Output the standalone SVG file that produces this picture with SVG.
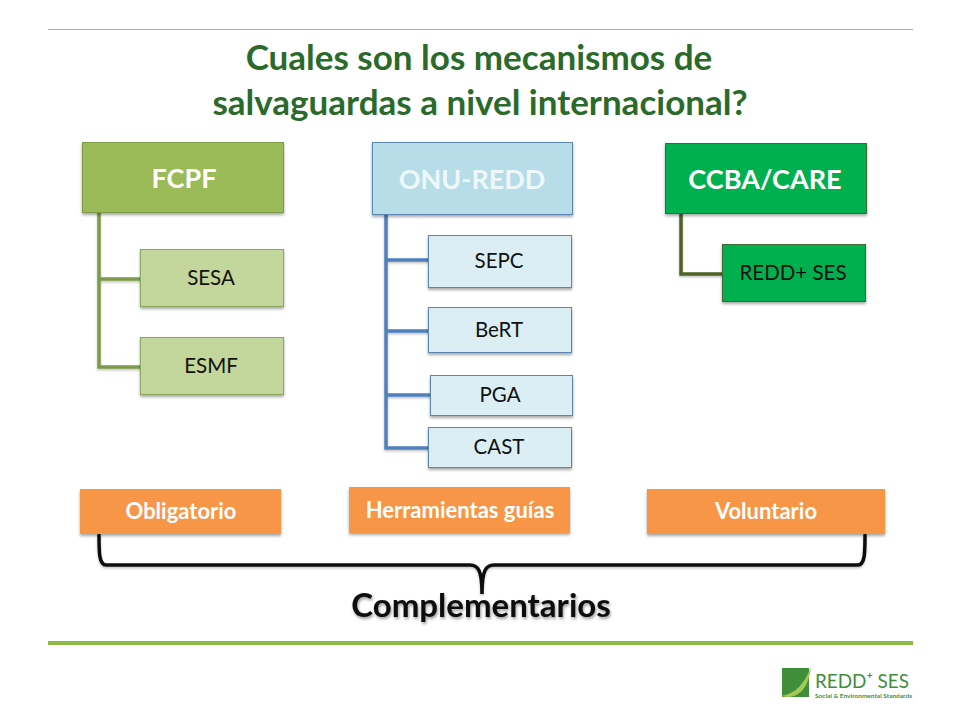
<svg xmlns="http://www.w3.org/2000/svg" width="960" height="720" viewBox="0 0 960 720">
<defs>
<filter id="sh" x="-10%" y="-10%" width="120%" height="130%"><feDropShadow dx="0" dy="2" stdDeviation="1.6" flood-color="#000" flood-opacity="0.35"/></filter>
<filter id="ls" x="-5%" y="-5%" width="110%" height="110%"><feDropShadow dx="0" dy="1.500" stdDeviation="1" flood-color="#000" flood-opacity="0.25"/></filter>
<filter id="ts" x="-10%" y="-20%" width="120%" height="150%"><feDropShadow dx="1" dy="2" stdDeviation="1.5" flood-color="#000" flood-opacity="0.4"/></filter>
</defs>
<style>
text{font-family:"Lato","Carlito","Open Sans",sans-serif;text-anchor:middle}
.title{font-size:35px;font-weight:700;fill:#2a6a2a}
.head{font-size:27px;font-weight:700;fill:#fff}
.sub{font-size:20.5px;fill:#111}
.tag{font-size:22px;font-weight:700;fill:#fff}
.box{filter:url(#sh);stroke-width:1}
.g1{fill:#9bbb59;stroke:#7f9a48}
.g2{fill:#c3d69b;stroke:#8fa760}
.b1{fill:#b7dde8;stroke:#5b87b5}
.b2{fill:#dbeef4;stroke:#5b87b5}
.v1{fill:#00b050;stroke:#3f6b35}
.o{fill:#f79646;stroke:none}
.conn{fill:none;stroke-width:3.500}
</style>
<rect width="960" height="720" fill="#fff"/>
<rect x="48" y="29" width="865" height="1" fill="#a9bd70"/>
<rect x="48" y="641" width="865" height="4" fill="#8cbb45"/>
<text class="title" x="479" y="70">Cuales son los mecanismos de</text>
<text class="title" x="480" y="115">salvaguardas a nivel internacional?</text>
<g id="connectors" filter="url(#ls)">
<path class="conn" stroke="#7f9a48" d="M99 212V367H141M99 279H141"/>
<path class="conn" stroke="#4f81bd" stroke-width="4" d="M386 214V448H429M386 260H429M386 331H429M386 395H431"/>
<path class="conn" stroke="#4f6228" d="M681 212V274H723"/>
<path fill="none" stroke="#111" stroke-width="3.500" stroke-linecap="round" d="M99 535C99 552 99 565 106 565H470C478 565 482 570 482 594C482 570 486 565 494 565H858C865 565 865 552 865 535"/>
</g>
<g id="fcpf"><rect class="box g1" x="82.500" y="142.500" width="201" height="70"/><text class="head" x="184" y="188">FCPF</text></g>
<g id="sesa"><rect class="box g2" x="140.500" y="249.500" width="143" height="57"/><text class="sub" x="211" y="285">SESA</text></g>
<g id="esmf"><rect class="box g2" x="140.500" y="337.500" width="143" height="57"/><text class="sub" x="211" y="373">ESMF</text></g>
<g id="onu"><rect class="box b1" x="372.500" y="142.500" width="200" height="72"/><text class="head" x="472" y="189" style="fill:#eef8fb">ONU-REDD</text></g>
<g id="sepc"><rect class="box b2" x="428.500" y="235.500" width="143" height="52"/><text class="sub" x="499" y="268">SEPC</text></g>
<g id="bert"><rect class="box b2" x="428.500" y="307.500" width="143" height="45"/><text class="sub" x="499" y="337">BeRT</text></g>
<g id="pga"><rect class="box b2" x="430.500" y="375.500" width="142" height="40"/><text class="sub" x="500" y="402">PGA</text></g>
<g id="cast"><rect class="box b2" x="428.500" y="427.500" width="143" height="40"/><text class="sub" x="499" y="454">CAST</text></g>
<g id="ccba"><rect class="box v1" x="665.500" y="143.500" width="201" height="70"/><text class="head" x="765" y="189">CCBA/CARE</text></g>
<g id="redd"><rect class="box v1" x="722.500" y="244.500" width="143" height="57"/><text class="sub" x="793" y="280">REDD+ SES</text></g>
<g id="obligatorio"><rect class="box o" x="80" y="489" width="201" height="45"/><text class="tag" x="181" y="519">Obligatorio</text></g>
<g id="herramientas"><rect class="box o" x="349" y="487" width="221" height="46"/><text class="tag" x="460" y="518">Herramientas guías</text></g>
<g id="voluntario"><rect class="box o" x="647" y="489" width="238" height="45"/><text class="tag" x="766" y="519">Voluntario</text></g>
<text x="481" y="617" style="font-size:33px;font-weight:700;fill:#0a0a0a;filter:url(#ts)">Complementarios</text>
<g id="logo">
<rect x="782" y="668" width="27" height="29" fill="#3f8f3a"/>
<path d="M780 696C796 694 804 684 811 667C809 684 802 697 787 697Z" fill="#a5c952"/>
<text x="815" y="688" style="text-anchor:start;font-size:20px;fill:#3f8f3a" textLength="94" lengthAdjust="spacingAndGlyphs">REDD⁺ SES</text>
<text x="815" y="698" style="text-anchor:start;font-size:5.500px;font-weight:700;fill:#3f8f3a" textLength="97" lengthAdjust="spacingAndGlyphs">Social &amp; Environmental Standards</text>
</g>
</svg>
